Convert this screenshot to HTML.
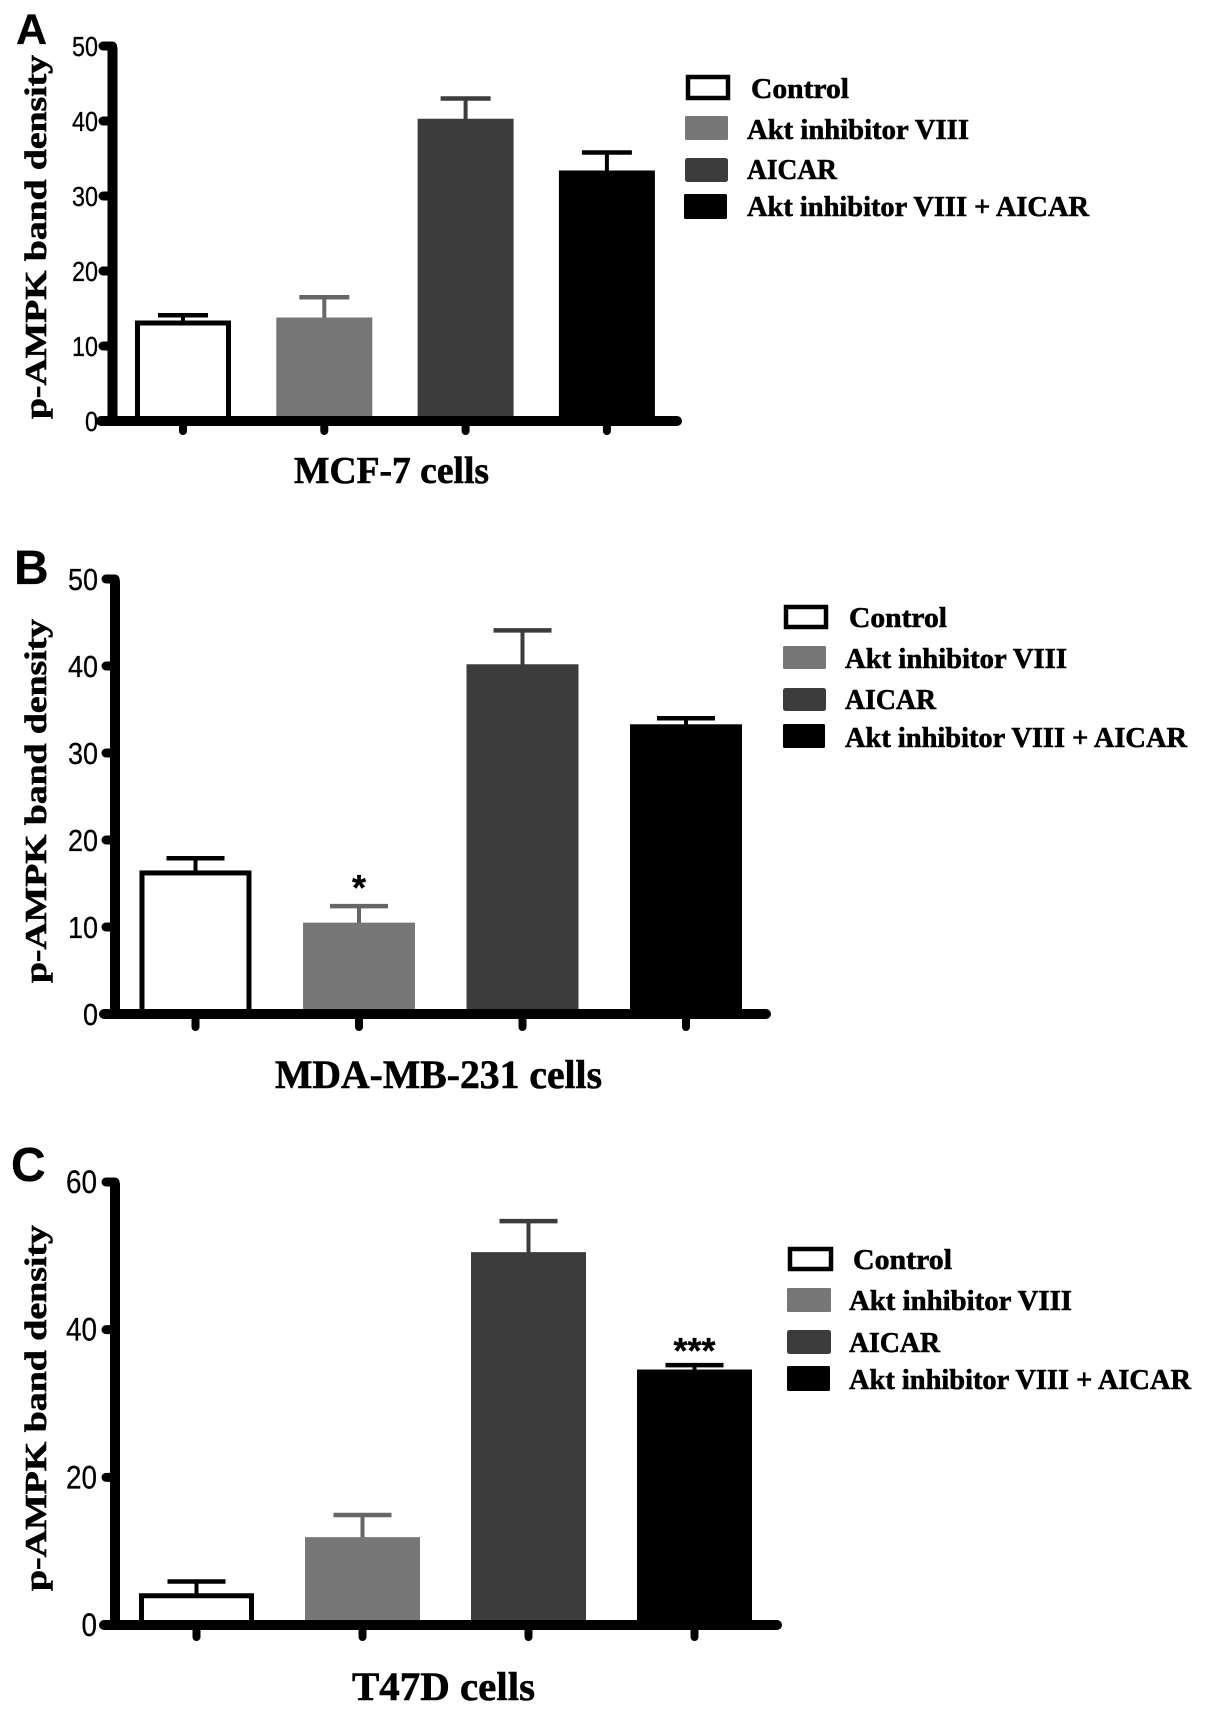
<!DOCTYPE html>
<html lang="en">
<head>
<meta charset="utf-8">
<title>p-AMPK band density</title>
<style>
html,body{margin:0;padding:0;background:#fff;}
svg{display:block;}
.serif{font-family:"Liberation Serif",serif;font-weight:bold;fill:#000;stroke:#000;stroke-width:0.6px;}
.sans{font-family:"Liberation Sans",sans-serif;fill:#000;stroke:#000;stroke-width:0.3px;}
</style>
</head>
<body>
<svg id="figure" xmlns="http://www.w3.org/2000/svg" width="1205" height="1713" viewBox="0 0 1205 1713">
  <rect x="0" y="0" width="1205" height="1713" fill="#fff"/>

  <g id="panel-a">
    <text class="sans" font-weight="bold" font-size="43" x="16" y="44">A</text>
    <text class="serif" font-size="31" textLength="364" lengthAdjust="spacingAndGlyphs" transform="translate(46,419) rotate(-90)">p-AMPK band density</text>
    <text class="serif" font-size="38" textLength="195" lengthAdjust="spacingAndGlyphs" x="294" y="483">MCF-7 cells</text>
  </g>
  <g>
    <g>
      <rect x="688" y="77" width="40" height="21" fill="#fff" stroke="#000" stroke-width="4.5"/>
      <text class="serif" font-size="29" textLength="98" lengthAdjust="spacingAndGlyphs" x="751" y="98">Control</text>
    </g>
    <g>
      <rect x="685" y="116" width="43" height="24" rx="1.5" fill="#777"/>
      <text class="serif" font-size="29" textLength="222" lengthAdjust="spacingAndGlyphs" x="747" y="139">Akt inhibitor VIII</text>
    </g>
    <g>
      <rect x="685" y="158" width="43" height="24" rx="2.5" fill="#3c3c3c"/>
      <text class="serif" font-size="29" textLength="90" lengthAdjust="spacingAndGlyphs" x="747" y="179">AICAR</text>
    </g>
    <g>
      <rect x="684" y="194" width="43" height="25" rx="1.5" fill="#000"/>
      <text class="serif" font-size="29" textLength="342" lengthAdjust="spacingAndGlyphs" x="747" y="216">Akt inhibitor VIII + AICAR</text>
    </g>
  </g>

  <g id="panel-b">
    <text class="sans" font-weight="bold" font-size="48" x="14" y="584">B</text>
    <text class="serif" font-size="31" textLength="364" lengthAdjust="spacingAndGlyphs" transform="translate(46,983) rotate(-90)">p-AMPK band density</text>
    <text class="serif" font-size="40" textLength="327" lengthAdjust="spacingAndGlyphs" x="275" y="1088">MDA-MB-231 cells</text>
  </g>
  <g>
    <g>
      <rect x="786" y="607" width="40" height="20" fill="#fff" stroke="#000" stroke-width="4.5"/>
      <text class="serif" font-size="29" textLength="98" lengthAdjust="spacingAndGlyphs" x="849" y="627">Control</text>
    </g>
    <g>
      <rect x="783" y="646" width="43" height="23" rx="1.5" fill="#777"/>
      <text class="serif" font-size="29" textLength="222" lengthAdjust="spacingAndGlyphs" x="845" y="668">Akt inhibitor VIII</text>
    </g>
    <g>
      <rect x="783" y="688" width="43" height="23" rx="2.5" fill="#3c3c3c"/>
      <text class="serif" font-size="29" textLength="91" lengthAdjust="spacingAndGlyphs" x="845" y="709">AICAR</text>
    </g>
    <g>
      <rect x="783" y="724" width="42" height="24" rx="1.5" fill="#000"/>
      <text class="serif" font-size="29" textLength="342" lengthAdjust="spacingAndGlyphs" x="845" y="747">Akt inhibitor VIII + AICAR</text>
    </g>
  </g>

  <g id="panel-c">
    <text class="sans" font-weight="bold" font-size="48" x="11" y="1181">C</text>
    <text class="serif" font-size="31" textLength="366" lengthAdjust="spacingAndGlyphs" transform="translate(46,1591) rotate(-90)">p-AMPK band density</text>
    <text class="serif" font-size="40" textLength="183" lengthAdjust="spacingAndGlyphs" x="352" y="1700">T47D cells</text>
  </g>
  <g>
    <g>
      <rect x="790" y="1249" width="41" height="20" fill="#fff" stroke="#000" stroke-width="4.5"/>
      <text class="serif" font-size="29" textLength="99" lengthAdjust="spacingAndGlyphs" x="853" y="1269">Control</text>
    </g>
    <g>
      <rect x="787" y="1288" width="44" height="24" rx="1.5" fill="#777"/>
      <text class="serif" font-size="29" textLength="223" lengthAdjust="spacingAndGlyphs" x="849" y="1310">Akt inhibitor VIII</text>
    </g>
    <g>
      <rect x="787" y="1330" width="44" height="24" rx="2.5" fill="#3c3c3c"/>
      <text class="serif" font-size="29" textLength="91" lengthAdjust="spacingAndGlyphs" x="849" y="1352">AICAR</text>
    </g>
    <g>
      <rect x="787" y="1366" width="43" height="25" rx="1.5" fill="#000"/>
      <text class="serif" font-size="29" textLength="342" lengthAdjust="spacingAndGlyphs" x="849" y="1389">Akt inhibitor VIII + AICAR</text>
    </g>
  </g>
</svg>

<script>
// Chart data
var categories = ['Control', 'Akt inhibitor VIII', 'AICAR', 'Akt inhibitor VIII + AICAR'];
var valuesA = [13.4, 13.8, 40.3, 33.4];
var errorTopsA = [14.1, 16.5, 43, 35.8];
var ticksA = [0, 10, 20, 30, 40, 50];
var valuesB = [16.5, 10.5, 40.2, 33.3];
var errorTopsB = [17.9, 12.4, 44.1, 34];
var ticksB = [0, 10, 20, 30, 40, 50];
var annotationsB = ['', '*', '', ''];
var valuesC = [4.3, 11.9, 50.5, 34.6];
var errorTopsC = [5.9, 14.9, 54.7, 35.2];
var ticksC = [0, 20, 40, 60];
var annotationsC = ['', '', '', '***'];
var noAnnotations = ['', '', '', ''];

var SVG_NS = 'http://www.w3.org/2000/svg';
var fills = ['#ffffff', '#777777', '#3c3c3c', '#000000'];
var errorColors = ['#000000', '#666666', '#3c3c3c', '#000000'];

function make(tag, parent, attrs) {
  var node = document.createElementNS(SVG_NS, tag);
  for (var key in attrs) { node.setAttribute(key, attrs[key]); }
  parent.appendChild(node);
  return node;
}

function drawPanel(id, values, errorTops, ticks, annotations, layout) {
  var root = document.getElementById(id);
  var maxTick = ticks[ticks.length - 1];
  function yScale(v) { return layout.y0 - (layout.y0 - layout.yMax) * v / maxTick; }
  function xScale(i) { return layout.x0 + layout.step * i; }

  values.forEach(function (value, i) {
    var cx = xScale(i);
    var top = yScale(value);
    var capY = yScale(errorTops[i]);
    var stem = make('line', root, {x1: cx, x2: cx, y1: capY, y2: top + 2, stroke: errorColors[i], 'stroke-width': 4});
    
    
    var cap = make('line', root, {x1: cx - layout.capHalf, x2: cx + layout.capHalf, y1: capY, y2: capY, stroke: errorColors[i], 'stroke-width': 4.5});
    
    
    var outline = i === 0 ? 5 : 0;
    var bar = make('rect', root, {
      x: cx - layout.barWidth / 2 + outline / 2,
      y: top + outline / 2,
      width: layout.barWidth - outline,
      height: layout.y0 - top - outline,
      fill: fills[i],
      stroke: i === 0 ? '#000' : 'none',
      'stroke-width': outline
    });
    
    
    var xTick = make('line', root, {x1: cx, x2: cx, y1: layout.y0, y2: layout.y0 + layout.tickDrop, stroke: '#000', 'stroke-width': 8, 'stroke-linecap': 'round'});
    
    
    if (annotations[i]) {
      var mark = make('text', root, {x: cx, y: capY - layout.starGap, 'text-anchor': 'middle', 'font-size': 36, 'font-weight': 'bold', 'class': 'sans'});
      mark.textContent = annotations[i];
      
      
    }
  });

  var yAxis = make('line', root, {x1: layout.axisX, x2: layout.axisX, y1: layout.axisTop, y2: layout.y0, stroke: '#000', 'stroke-width': 10, 'stroke-linecap': 'round'});
  
  
  var xAxis = make('line', root, {x1: layout.xAxisStart, x2: layout.xAxisEnd, y1: layout.y0, y2: layout.y0, stroke: '#000', 'stroke-width': 10, 'stroke-linecap': 'round'});
  
  

  ticks.forEach(function (tick) {
    var y = yScale(tick);
    var mark = make('line', root, {x1: layout.xAxisStart + 2, x2: layout.axisX, y1: y, y2: y, stroke: '#000', 'stroke-width': 9, 'stroke-linecap': 'round'});
    
    
    var text = String(tick);
    var width = layout.charWidth * text.length;
    var label = make('text', root, {x: layout.labelRight - width, y: y + layout.labelDy, 'font-size': layout.labelSize, textLength: width, lengthAdjust: 'spacingAndGlyphs', 'class': 'sans'});
    label.textContent = text;
    
    
  });
}

drawPanel('panel-a', valuesA, errorTopsA, ticksA, noAnnotations, {
  y0: 421, yMax: 46, x0: 183, step: 141.3, barWidth: 96, capHalf: 25, axisX: 112.5, axisTop: 48,
  xAxisStart: 101, xAxisEnd: 677, tickDrop: 10, charWidth: 13, labelRight: 98, labelDy: 10, labelSize: 28, starGap: 10
});
drawPanel('panel-b', valuesB, errorTopsB, ticksB, annotationsB, {
  y0: 1014, yMax: 579, x0: 195.5, step: 163.5, barWidth: 112, capHalf: 29, axisX: 115, axisTop: 581,
  xAxisStart: 104, xAxisEnd: 766, tickDrop: 13, charWidth: 15, labelRight: 98, labelDy: 11, labelSize: 31, starGap: 6
});
drawPanel('panel-c', valuesC, errorTopsC, ticksC, annotationsC, {
  y0: 1625, yMax: 1182, x0: 196.5, step: 166, barWidth: 115, capHalf: 29, axisX: 115, axisTop: 1184,
  xAxisStart: 104, xAxisEnd: 777, tickDrop: 12, charWidth: 15.5, labelRight: 97, labelDy: 11, labelSize: 32, starGap: 2
});
</script>
</body>
</html>
